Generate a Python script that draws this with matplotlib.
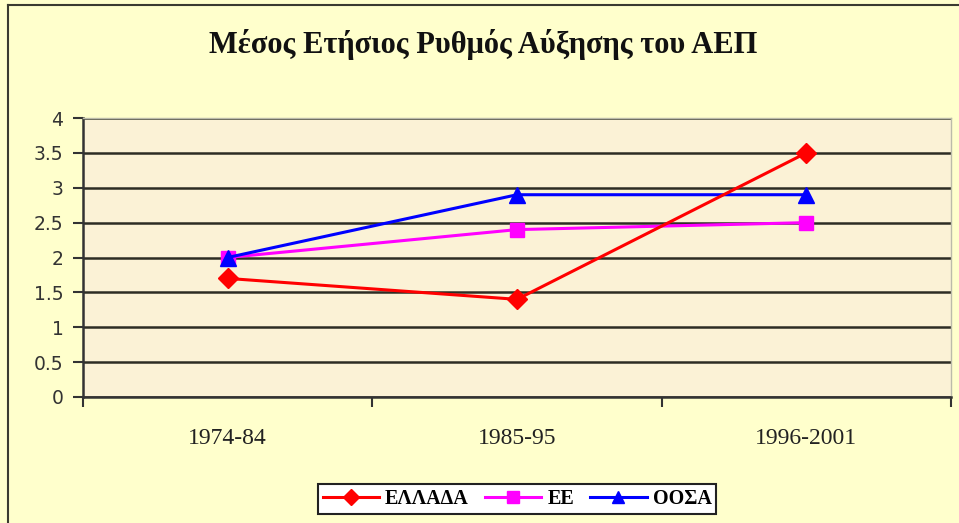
import matplotlib
matplotlib.use("Agg")
import matplotlib.pyplot as plt
from matplotlib.lines import Line2D

categories = ["1974-84", "1985-95", "1996-2001"]
greece = [1.7, 1.4, 3.5]
eu = [2.0, 2.4, 2.5]
oecd = [2.0, 2.9, 2.9]
series_names = ["ΕΛΛΑΔΑ", "ΕΕ", "ΟΟΣΑ"]
yticks = [0, 0.5, 1, 1.5, 2, 2.5, 3, 3.5, 4]
ytick_labels = ["0", "0.5", "1", "1.5", "2", "2.5", "3", "3.5", "4"]
title = "Μέσος Ετήσιος Ρυθμός Αύξησης του ΑΕΠ"

W, H = 959, 523
fig = plt.figure(figsize=(W / 100, H / 100), dpi=100)
fig.patch.set_facecolor("#FFFFCC")

# outer frame lines (left/top)
fig.add_artist(Line2D([8 / W, 8 / W], [0, 1 - 5 / H], color="#3a3a30", lw=1.5))
fig.add_artist(Line2D([8 / W, 1], [1 - 5 / H, 1 - 5 / H], color="#3a3a30", lw=1.5))

left, right = 83 / W, 951 / W
top, bottom = 1 - 118 / H, 1 - 397 / H
ax = fig.add_axes([left, bottom, right - left, top - bottom])
ax.set_facecolor("#FBF2D6")

x = list(range(len(categories)))
ax.plot(x, greece, color="#FF0000", marker="D", markersize=10, lw=2.2, label=series_names[0], zorder=5)
ax.plot(x, eu, color="#FF00FF", marker="s", markersize=10, lw=2.2, label=series_names[1], zorder=4)
ax.plot(x, oecd, color="#0000FF", marker="^", markersize=11, lw=2.2, label=series_names[2], zorder=4)

ax.set_xlim(-0.5, len(categories) - 0.5)
ax.set_ylim(0, 4)
ax.set_yticks(yticks)
ax.set_yticklabels(ytick_labels, fontfamily="DejaVu Sans", fontsize=13.5, color="#333333")
ax.set_xticks(x)
ax.set_xticklabels(categories, fontfamily="Liberation Serif", fontsize=17, color="#222222")
ax.tick_params(axis="x", length=0, pad=22)
ax.set_xticks([i - 0.5 for i in range(len(categories) + 1)], minor=True)
ax.tick_params(axis="x", which="minor", length=7, width=1.5, direction="out", color="#333333")
ax.tick_params(axis="y", length=7, width=1.5, direction="out", color="#333333", pad=7)

ax.yaxis.grid(True, color="#2d2d24", lw=1.8)
ax.set_axisbelow(True)
for s in ["top", "right"]:
    ax.spines[s].set_color("#bbbbaa")
    ax.spines[s].set_linewidth(1)
for s in ["left", "bottom"]:
    ax.spines[s].set_color("#333333")
    ax.spines[s].set_linewidth(1.8)

fig.text(483 / W, 1 - 45 / H, title, ha="center", va="center",
         fontfamily="Liberation Serif", fontweight="bold", fontsize=22, color="#111111")

leg = fig.legend(loc="center", bbox_to_anchor=(517 / W, 1 - 499 / H), ncol=3,
                 prop={"family": "Liberation Serif", "weight": "bold", "size": 14.5},
                 frameon=True, fancybox=False, edgecolor="#222222", facecolor="white",
                 handlelength=2.8, handletextpad=0.3, columnspacing=0.8, borderpad=0.25)
leg.get_frame().set_linewidth(1.5)
leg.get_frame().set_alpha(1)
for h in leg.legend_handles:
    h.set_markersize(8)

fig.savefig("out.png", dpi=100, facecolor=fig.get_facecolor())
